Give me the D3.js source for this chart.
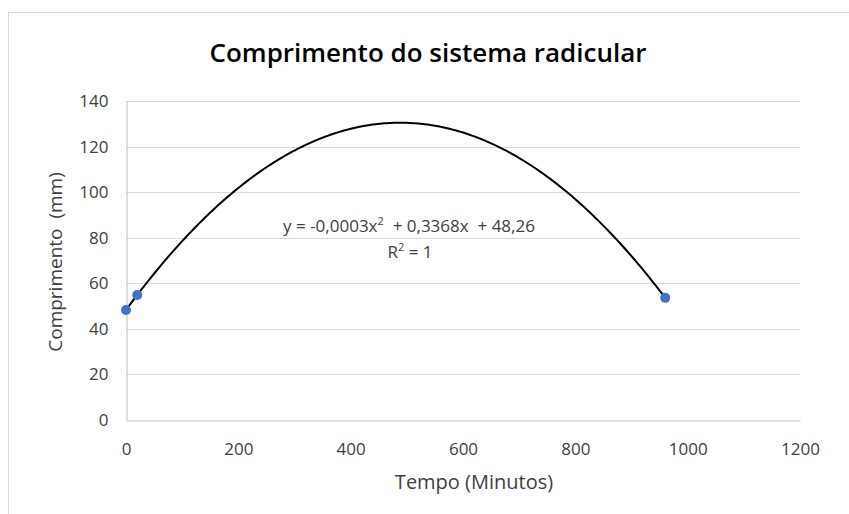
<!DOCTYPE html>
<html>
<head>
<meta charset="utf-8">
<script src="https://cdn.jsdelivr.net/npm/d3@7"></script>
<style>
  body { margin: 0; background: #fff; }
  text { font-family: "Open Sans", sans-serif; white-space: pre; }
</style>
</head>
<body>
<script>
// Setup variables
const width = 849;
const height = 514;
const margin = { left: 126, right: 49, top: 101, bottom: 94 };

// Data
const tempo = [0, 20, 960];
const comprimento = [48.26, 54.86, 53.6];
const xTicks = [0, 200, 400, 600, 800, 1000, 1200];
const yTicks = [0, 20, 40, 60, 80, 100, 120, 140];
const equationLabel = ["y = -0,0003x", "2", "  + 0,3368x  + 48,26"];

const svg = d3.select("body")
    .append("svg")
    .attr("width", width)
    .attr("height", height);

// outer chart border
svg.append("rect")
    .attr("x", 8.5).attr("y", 12.5)
    .attr("width", width).attr("height", height)
    .attr("fill", "none")
    .attr("stroke", "#d9d9d9");

const x = d3.scaleLinear().domain([0, 1200]).range([margin.left, width - margin.right]);
const y = d3.scaleLinear().domain([0, 140]).range([height - margin.bottom, margin.top]);

// gridlines
svg.append("g")
    .selectAll("line")
    .data(yTicks.slice(1))
    .join("line")
    .attr("x1", x(0)).attr("x2", x(1200))
    .attr("y1", d => Math.round(y(d)) + 0.5)
    .attr("y2", d => Math.round(y(d)) + 0.5)
    .attr("stroke", "#d9d9d9");

// x axis
const xAxis = svg.append("g")
    .attr("transform", `translate(0, ${Math.round(y(0)) + 0.5})`)
    .call(d3.axisBottom(x).tickValues(xTicks).tickFormat(d3.format("d")).tickSize(0).tickPadding(22));
xAxis.select(".domain").attr("stroke", "#bfbfbf");
xAxis.selectAll("text").attr("font-size", 17).attr("fill", "#404040")
    .style("font-family", "'Open Sans', sans-serif");

// y axis
const yAxis = svg.append("g")
    .attr("transform", `translate(${Math.round(x(0)) + 0.5}, 0)`)
    .call(d3.axisLeft(y).tickValues(yTicks).tickSize(0).tickPadding(18));
yAxis.select(".domain").attr("stroke", "#bfbfbf");
yAxis.selectAll("text").attr("font-size", 17).attr("fill", "#404040")
    .style("font-family", "'Open Sans', sans-serif");

// polynomial (order 2) trendline fitted to the points by least squares
const fitQuadratic = (xs, ys) => {
    const S = k => d3.sum(xs, v => Math.pow(v, k));
    const T = k => d3.sum(xs, (v, i) => Math.pow(v, k) * ys[i]);
    const A = [[S(4), S(3), S(2)], [S(3), S(2), S(1)], [S(2), S(1), S(0)]];
    const B = [T(2), T(1), T(0)];
    // gaussian elimination
    for (let i = 0; i < 3; i++) {
        for (let j = i + 1; j < 3; j++) {
            const f = A[j][i] / A[i][i];
            for (let k = i; k < 3; k++) A[j][k] -= f * A[i][k];
            B[j] -= f * B[i];
        }
    }
    const c = [0, 0, 0];
    for (let i = 2; i >= 0; i--) {
        let s = B[i];
        for (let k = i + 1; k < 3; k++) s -= A[i][k] * c[k];
        c[i] = s / A[i][i];
    }
    return c;
};
const coef = fitQuadratic(tempo, comprimento);
const trend = d3.range(d3.min(tempo), d3.max(tempo) + 1, 4)
    .map(t => [t, coef[0] * t * t + coef[1] * t + coef[2]]);

svg.append("path")
    .datum(trend)
    .attr("fill", "none")
    .attr("stroke", "#000")
    .attr("stroke-width", 2)
    .attr("d", d3.line().x(d => x(d[0])).y(d => y(d[1])));

// points
svg.append("g")
    .selectAll("circle")
    .data(tempo)
    .join("circle")
    .attr("cx", d => x(d))
    .attr("cy", (d, i) => y(comprimento[i]))
    .attr("r", 5)
    .attr("fill", "#4472c4");

// title
svg.append("text")
    .attr("x", 428).attr("y", 62)
    .attr("text-anchor", "middle")
    .attr("font-size", 26)
    .attr("font-weight", 600)
    .attr("fill", "#000")
    .text("Comprimento do sistema radicular");

// equation and R²
const eq = svg.append("text")
    .attr("x", 409).attr("y", 232)
    .attr("text-anchor", "middle")
    .attr("font-size", 17)
    .attr("fill", "#404040");
eq.append("tspan").text(equationLabel[0]);
eq.append("tspan").attr("dy", -7).attr("font-size", 11).text(equationLabel[1]);
eq.append("tspan").attr("dy", 7).text(equationLabel[2]);

const r2 = svg.append("text")
    .attr("x", 410).attr("y", 258)
    .attr("text-anchor", "middle")
    .attr("font-size", 17)
    .attr("fill", "#404040");
r2.append("tspan").text("R");
r2.append("tspan").attr("dy", -7).attr("font-size", 11).text("2");
r2.append("tspan").attr("dy", 7).text(" = 1");

// axis titles
svg.append("text")
    .attr("x", 474).attr("y", 489)
    .attr("text-anchor", "middle")
    .attr("font-size", 20)
    .attr("fill", "#404040")
    .text("Tempo (Minutos)");

svg.append("text")
    .attr("transform", `translate(62, 262) rotate(-90)`)
    .attr("text-anchor", "middle")
    .attr("font-size", 19)
    .attr("fill", "#404040")
    .text("Comprimento  (mm)");
</script>
</body>
</html>
